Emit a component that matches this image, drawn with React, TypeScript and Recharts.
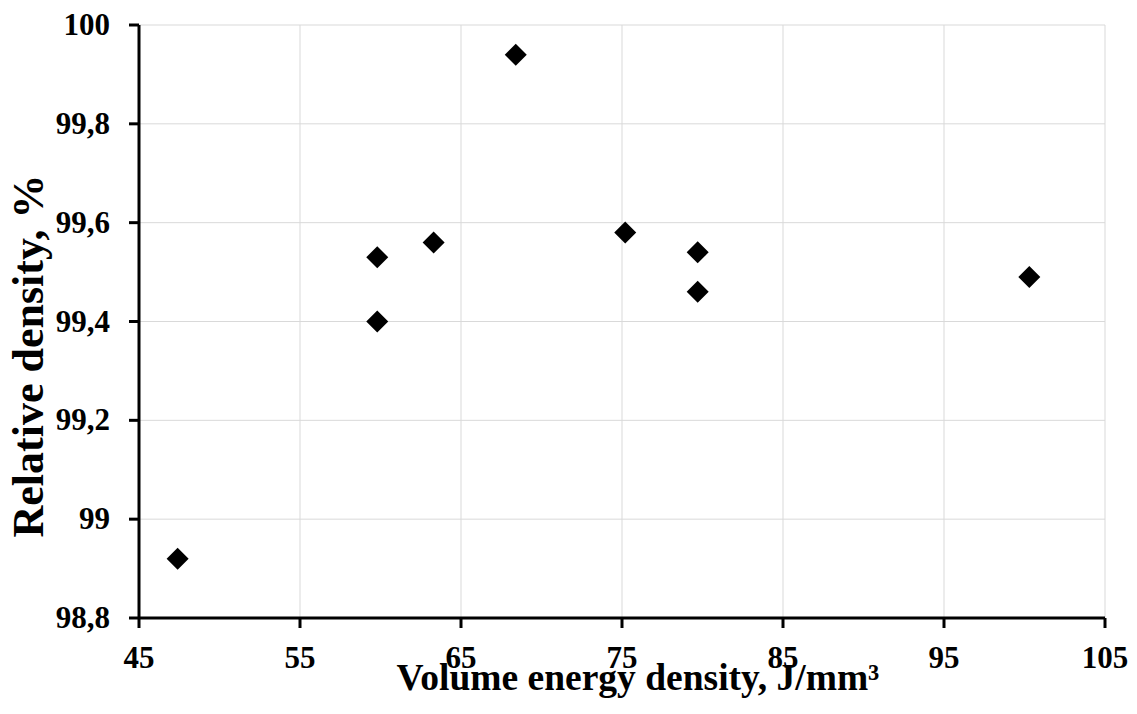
import { ScatterChart, Scatter, XAxis, YAxis, CartesianGrid } from 'recharts'

const energy = [47.4, 59.8, 59.8, 63.3, 68.4, 75.2, 79.7, 79.7, 100.3];
const density = [98.92, 99.53, 99.4, 99.56, 99.94, 99.58, 99.54, 99.46, 99.49];

const xTicks = [45, 55, 65, 75, 85, 95, 105];
const yTicks = [98.8, 99, 99.2, 99.4, 99.6, 99.8, 100];

const xTitle = 'Volume energy density, J/mm³';
const yTitle = 'Relative density, %';

const data = energy.map((e, i) => ({ energy: e, density: density[i] }));

const FONT = '"Liberation Serif", "Times New Roman", serif';

const Diamond = (props: any) => {
  const { cx, cy } = props;
  const r = 11;
  return (
    <polygon
      points={`${cx},${cy - r} ${cx + r},${cy} ${cx},${cy + r} ${cx - r},${cy}`}
      fill="#000"
    />
  );
};

const fmt = (v: number) => String(v).replace('.', ',');

const XTick = (props: any) => {
  const { x, y, payload } = props;
  return (
    <text x={x} y={y + 40} textAnchor="middle" fontSize={31} fontWeight="bold" fontFamily={FONT} fill="#000">
      {fmt(payload.value)}
    </text>
  );
};

const YTick = (props: any) => {
  const { x, y, payload } = props;
  return (
    <text x={x - 19} y={y + 10} textAnchor="end" fontSize={31} fontWeight="bold" fontFamily={FONT} fill="#000">
      {fmt(payload.value)}
    </text>
  );
};

export default function App() {
  return (
    <div style={{ position: 'absolute', left: 0, top: 0, background: '#fff' }}>
      <ScatterChart width={1137} height={714} margin={{ top: 25, right: 32, left: 0, bottom: 0 }}>
        <CartesianGrid stroke="#d9d9d9" strokeWidth={1} />
        <XAxis
          type="number"
          dataKey="energy"
          domain={[45, 105]}
          ticks={xTicks}
          height={96}
          stroke="#000"
          axisLine={{ strokeWidth: 3 }}
          tickLine={{ strokeWidth: 3 }}
          tickSize={10}
          tickMargin={0}
          tick={<XTick />}
          label={{
            content: () => (
              <text
                x={638}
                y={690}
                textAnchor="middle"
                fontSize={37.5}
                fontWeight="bold"
                fontFamily={FONT}
                fill="#000"
              >
                {xTitle}
              </text>
            ),
          }}
        />
        <YAxis
          type="number"
          dataKey="density"
          domain={[98.8, 100]}
          ticks={yTicks}
          width={139}
          stroke="#000"
          axisLine={{ strokeWidth: 3 }}
          tickLine={{ strokeWidth: 3 }}
          tickSize={10}
          tickMargin={0}
          tick={<YTick />}
          label={{
            content: () => (
              <text
                x={43}
                y={356}
                transform="rotate(-90 43 356)"
                textAnchor="middle"
                fontSize={44}
                fontWeight="bold"
                fontFamily={FONT}
                fill="#000"
              >
                {yTitle}
              </text>
            ),
          }}
        />
        <Scatter data={data} shape={Diamond} isAnimationActive={false} />
      </ScatterChart>
    </div>
  )
}
